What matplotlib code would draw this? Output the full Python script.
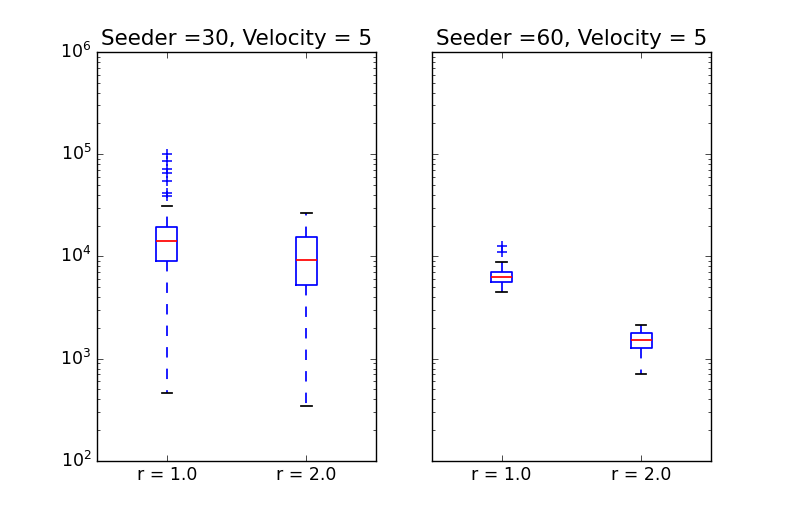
"""
Box plots of run time for two seeder counts, drawn from precomputed stats.
Output: out.png
"""

import matplotlib
matplotlib.use("Agg")
import matplotlib.pyplot as plt

# ------------------------------------------------------------------
# data
# ------------------------------------------------------------------
titles = ["Seeder =30, Velocity = 5", "Seeder =60, Velocity = 5"]
labels = ["r = 1.0", "r = 2.0"]

# seeder 30
s30_whislo = [457, 344]
s30_q1     = [8970, 5270]
s30_med    = [14000, 9250]
s30_q3     = [19300, 15500]
s30_whishi = [31200, 26800]
s30_fliers = [[39000, 42000, 54500, 66000, 71000, 86000, 100000], []]

# seeder 60
s60_whislo = [4520, 708]
s60_q1     = [5650, 1280]
s60_med    = [6280, 1520]
s60_q3     = [7030, 1770]
s60_whishi = [8900, 2150]
s60_fliers = [[11100, 12700], []]


def make_stats(whislo, q1, med, q3, whishi, fliers):
    out = []
    for i, lab in enumerate(labels):
        out.append(dict(label=lab, whislo=whislo[i], q1=q1[i], med=med[i],
                        q3=q3[i], whishi=whishi[i], fliers=fliers[i]))
    return out


def main():
    plt.style.use("classic")
    fig, axes = plt.subplots(1, 2, sharey=True, figsize=(7.89, 5.26), dpi=100)
    fig.patch.set_facecolor("white")
    fig.subplots_adjust(left=0.123, right=0.901, bottom=0.124, top=0.901,
                        wspace=0.2)

    stats = [make_stats(s30_whislo, s30_q1, s30_med, s30_q3, s30_whishi, s30_fliers),
             make_stats(s60_whislo, s60_q1, s60_med, s60_q3, s60_whishi, s60_fliers)]

    lw = 1.25
    for ax, st, title in zip(axes, stats, titles):
        ax.bxp(st, positions=[1, 2], widths=0.15, showfliers=True,
               boxprops=dict(color="b", linewidth=lw),
               whiskerprops=dict(color="b", linestyle=(0, (7.5, 8)),
                                 linewidth=lw),
               capprops=dict(color="k", linewidth=lw),
               medianprops=dict(color="r", linewidth=lw),
               flierprops=dict(marker="+", markeredgecolor="b",
                               markerfacecolor="none", linestyle="none",
                               markersize=7, markeredgewidth=1.1))
        ax.set_yscale("log")
        ax.set_ylim(1e2, 1e6)
        ax.set_xlim(0.5, 2.5)
        ax.set_title(title, fontsize=15.5)
        ax.tick_params(labelsize=12.5)

    fig.savefig("out.png", dpi=100, facecolor="white")
    plt.close(fig)


if __name__ == "__main__":
    main()
